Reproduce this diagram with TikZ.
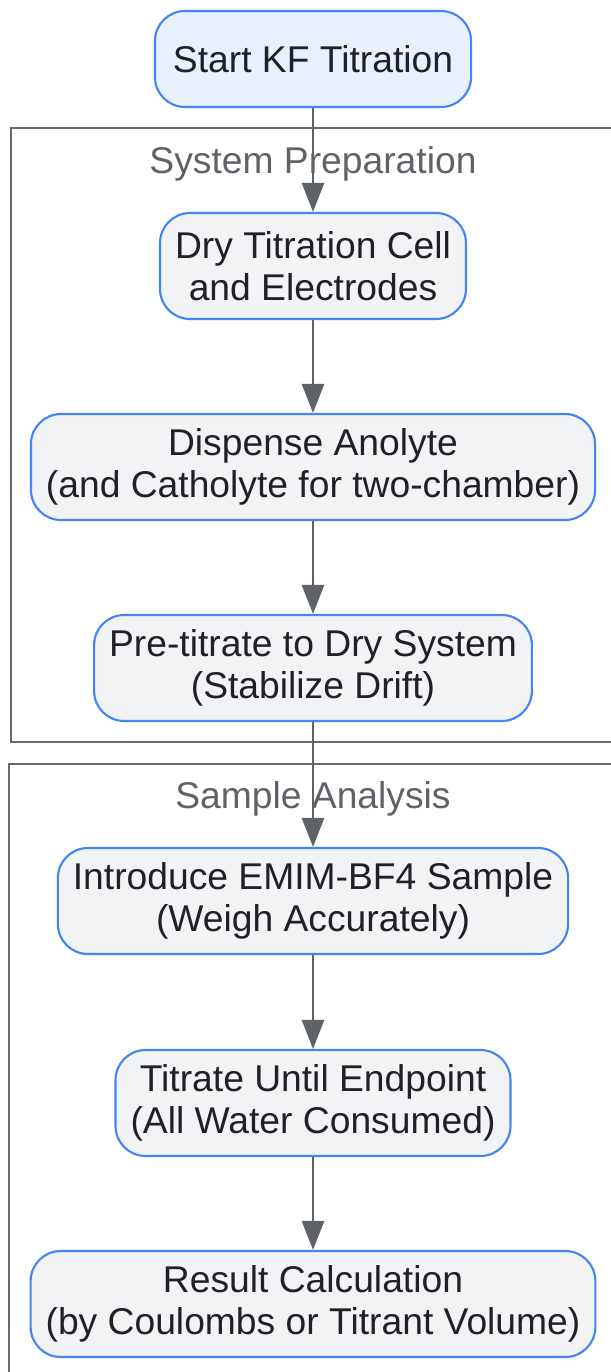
\documentclass[tikz,border=0pt]{standalone}
\usepackage{fontspec}
\setmainfont{Liberation Sans}
\usetikzlibrary{arrows.meta}
\definecolor{stepblue}{HTML}{4285F4}
\definecolor{stepfill}{HTML}{F1F3F5}
\definecolor{startfill}{HTML}{E8F0FE}
\definecolor{inkgrey}{HTML}{5F6368}
\definecolor{boxgrey}{HTML}{6B6B6B}
\definecolor{textdark}{HTML}{202124}
\tikzset{
  stepbox/.style={draw=stepblue, line width=1.2pt, fill=stepfill, rounded corners=0.6cm,
    align=center, inner xsep=0.30cm, minimum height=2.12cm, text=textdark,
    font=\fontsize{21.2}{23.8}\selectfont},
  startbox/.style={stepbox, fill=startfill, minimum height=1.92cm, inner xsep=0.36cm},
  groupbox/.style={draw=boxgrey, line width=1.4pt},
  grouplabel/.style={text=inkgrey, font=\fontsize{21.2}{23.8}\selectfont},
  flow/.style={draw=inkgrey, line width=1.5pt, -{Triangle[length=0.58cm,width=0.44cm]}}
}
\begin{document}
\begin{tikzpicture}[x=0.02cm, y=-0.02cm]
			%%%%% FRAME %%%%%
			\useasboundingbox (0, 0) rectangle (611, 1372);
			\fill[white] (0, 0) rectangle (611, 1372);
			
			%%%%% GROUPS %%%%%
			\draw[groupbox] (11, 128) rectangle (630, 742);
			\node[grouplabel] (prep) at (313, 164) {System Preparation};
			
			\draw[groupbox] (9, 764) rectangle (630, 1390);
			\node[grouplabel] (analysis) at (313, 799) {Sample Analysis};
			
			%%%%% STEPS %%%%%
			\node[startbox] (start) at (313, 59) {Start KF Titration};
			\node[stepbox] (dry) at (313, 266) {Dry Titration Cell\\and Electrodes};
			\node[stepbox] (dispense) at (313, 467) {Dispense Anolyte\\(and Catholyte for two-chamber)};
			\node[stepbox] (pretitrate) at (313, 668) {Pre-titrate to Dry System\\(Stabilize Drift)};
			\node[stepbox] (introduce) at (313, 901) {Introduce EMIM-BF4 Sample\\(Weigh Accurately)};
			\node[stepbox] (titrate) at (313, 1103) {Titrate Until Endpoint\\(All Water Consumed)};
			\node[stepbox] (result) at (313, 1304) {Result Calculation\\(by Coulombs or Titrant Volume)};
			
			%%%%% ARROWS %%%%%
			\draw[flow] (start) -- (dry);
			\draw[flow] (dry) -- (dispense);
			\draw[flow] (dispense) -- (pretitrate);
			\draw[flow] (pretitrate) -- (introduce);
			\draw[flow] (introduce) -- (titrate);
			\draw[flow] (titrate) -- (result);
			
			%%%%% END %%%%%
		\end{tikzpicture}
\end{document}
